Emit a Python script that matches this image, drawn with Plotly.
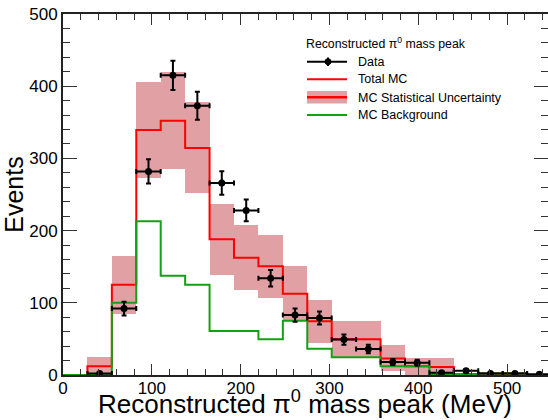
import numpy as np
import plotly.graph_objects as go

# Binning: 20 bins of 27.5 MeV between 0 and 550 MeV
bin_edges = np.linspace(0.0, 550.0, 21)
bin_centers = 0.5 * (bin_edges[:-1] + bin_edges[1:])
half_width = 0.5 * (bin_edges[1] - bin_edges[0])

# Observed events per bin
data_counts = [0, 2, 92, 282, 415, 373, 266, 228, 134, 83,
               79, 49, 36, 18, 17, 3, 6, 2, 2, 1]

# Total MC prediction and its statistical uncertainty
mc_total = [0, 12, 125, 339.5, 352, 314.5, 188, 162.5, 150.5, 112.5,
            74.5, 49.5, 49.5, 23, 12, 11, 1, 2, 2, 0]
mc_stat_err = [0, 12.5, 40, 66, 67, 63, 49, 45, 44, 38,
               30, 25, 25, 18, 12, 12, 1, 2, 2, 0]

# Background component of the MC
mc_background = [0, 0, 100, 213, 137.5, 125, 61, 61, 49.5, 75,
                 36.5, 24.5, 24.5, 12, 12, 1, 0.5, 2, 2, 0]

RED = "rgb(255,0,0)"
GREEN = "rgb(20,160,20)"
BAND = "rgb(225,160,163)"
FONT = "Liberation Sans, Arial, Helvetica, sans-serif"

W, H = 548, 420
ML, MR, MT, MB = 63, 0, 14, 45
X_MAX = 546.0
Y_MAX = 500.0

mc = np.array(mc_total, dtype=float)
err = np.array(mc_stat_err, dtype=float)


def step_xy(values):
    xs = list(bin_edges)
    ys = list(values) + [values[-1]]
    return xs, ys


fig = go.Figure()

# MC statistical uncertainty band
fig.add_trace(go.Bar(
    x=bin_centers, y=2 * err, base=mc - err, width=2 * half_width,
    marker=dict(color=BAND, line=dict(width=0)),
    showlegend=False, hoverinfo="skip",
))

# Total MC histogram
xs, ys = step_xy(mc_total)
fig.add_trace(go.Scatter(x=xs, y=ys, mode="lines", line=dict(color=RED, width=2, shape="hv"),
                         showlegend=False, hoverinfo="skip"))

# MC background histogram
xs, ys = step_xy(mc_background)
fig.add_trace(go.Scatter(x=xs, y=ys, mode="lines", line=dict(color=GREEN, width=2, shape="hv"),
                         showlegend=False, hoverinfo="skip"))

# Data points with Poisson errors (empty bins are not drawn)
dc = np.array(data_counts, dtype=float)
mask = dc > 0
fig.add_trace(go.Scatter(
    x=bin_centers[mask], y=dc[mask], mode="markers",
    marker=dict(color="black", size=7, symbol="circle"),
    error_y=dict(type="data", array=np.sqrt(dc[mask]), color="black", thickness=2, width=2.5),
    error_x=dict(type="data", array=np.full(mask.sum(), half_width), color="black", thickness=2, width=2.5),
    showlegend=False, hoverinfo="skip",
))


# Legend drawn in pixel space of the page
def px(xp):
    return (xp - ML) / (W - ML - MR)


def py(yp):
    return (H - MB - yp) / (H - MT - MB)


sx0, sx1 = px(307), px(347)
shapes = []
# Data glyph
y_d = py(61.7)
shapes.append(dict(type="line", xref="paper", yref="paper", x0=sx0, x1=sx1, y0=y_d, y1=y_d,
                   line=dict(color="black", width=2)))
shapes.append(dict(type="line", xref="paper", yref="paper", x0=px(328), x1=px(328),
                   y0=py(57.5), y1=py(66), line=dict(color="black", width=2)))
shapes.append(dict(type="circle", xref="paper", yref="paper", x0=px(325), x1=px(331),
                   y0=py(58.7), y1=py(64.7), fillcolor="black", line=dict(color="black", width=1)))
# Total MC glyph
y_t = py(79.3)
shapes.append(dict(type="line", xref="paper", yref="paper", x0=sx0, x1=sx1, y0=y_t, y1=y_t,
                   line=dict(color=RED, width=2)))
# MC statistical uncertainty glyph
shapes.append(dict(type="rect", xref="paper", yref="paper", x0=sx0, x1=sx1, y0=py(103.5), y1=py(91),
                   fillcolor=BAND, line=dict(width=0)))
y_s = py(97.3)
shapes.append(dict(type="line", xref="paper", yref="paper", x0=sx0, x1=sx1, y0=y_s, y1=y_s,
                   line=dict(color=RED, width=2.5)))
# MC background glyph
y_b = py(115)
shapes.append(dict(type="line", xref="paper", yref="paper", x0=sx0, x1=sx1, y0=y_b, y1=y_b,
                   line=dict(color=GREEN, width=2)))

annotations = [
    dict(text="Reconstructed π<sup>0</sup> mass peak", x=px(304), y=py(43.3), xref="paper", yref="paper",
         xanchor="left", yanchor="middle", showarrow=False, font=dict(family=FONT, size=12.3, color="black")),
]
for label, yy in [("Data", 61.7), ("Total MC", 79.3), ("MC Statistical Uncertainty", 97.5),
                  ("MC Background", 115)]:
    annotations.append(dict(text=label, x=px(356), y=py(yy), xref="paper", yref="paper",
                            xanchor="left", yanchor="middle", showarrow=False,
                            font=dict(family=FONT, size=12.5, color="black")))

# x-axis title placed as a free annotation under the tick labels
annotations.append(dict(text="Reconstructed π<sup>0</sup> mass peak (MeV)", x=px(305), y=py(402),
                        xref="paper", yref="paper", xanchor="center", yanchor="middle", showarrow=False,
                        font=dict(family=FONT, size=26, color="black")))

axis_common = dict(
    showgrid=False, zeroline=False, showline=True, linecolor="#222", linewidth=2,
    ticks="inside", tickcolor="#333", tickwidth=1, mirror="allticks",
    tickfont=dict(family=FONT, size=17, color="black"),
)

fig.update_layout(
    width=W, height=H,
    margin=dict(l=ML, r=MR, t=MT, b=MB, autoexpand=False),
    paper_bgcolor="white", plot_bgcolor="white",
    showlegend=False, bargap=0, barmode="overlay",
    shapes=shapes, annotations=annotations,
    xaxis=dict(range=[0, X_MAX], dtick=100, tick0=0, ticklen=11, ticklabelstandoff=-3,
               minor=dict(dtick=20, ticklen=6, ticks="inside", tickcolor="#333"),
               **axis_common),
    yaxis=dict(range=[0, Y_MAX], dtick=100, tick0=0, ticklen=14,
               minor=dict(dtick=20, ticklen=7, ticks="inside", tickcolor="#333"),
               title=dict(text="Events", font=dict(family=FONT, size=25, color="black"), standoff=0),
               **axis_common),
)

fig.write_html("out.html")
